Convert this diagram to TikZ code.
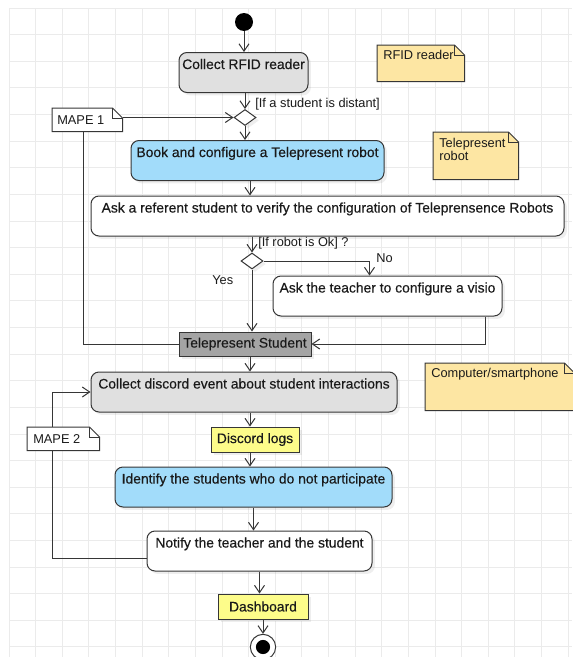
\documentclass[tikz,border=0pt]{standalone}
\usepackage{fontspec}
\setmainfont{Liberation Sans}
\newfontfamily\boxface{Liberation Sans}[FakeBold=0.35]
\usetikzlibrary{arrows.meta,shapes.geometric,shadows,calc}
\pgfdeclarelayer{grid}
\pgfdeclarelayer{wires}
\pgfdeclarelayer{notes}
\pgfsetlayers{grid,wires,notes,main}

\definecolor{ink}{HTML}{363636}
\definecolor{txt}{HTML}{1A1A1A}
\definecolor{gridc}{HTML}{EBEBEB}
\definecolor{actgray}{HTML}{E0E0E0}
\definecolor{actblue}{HTML}{A2DCFA}
\definecolor{tsgray}{HTML}{A4A4A4}
\definecolor{objyellow}{HTML}{FDFC8A}
\definecolor{noteyellow}{HTML}{FDE6A3}

% note outline with folded top-right corner, drawn around an empty body node
\newcommand\notepoly[2]{%
  \begin{pgfonlayer}{notes}
    \filldraw[fill=#2, draw=ink, line width=0.75pt]
      (#1.north west) -- ([xshift=-7.5pt]#1.north east)
      -- ([yshift=-7.5pt]#1.north east) -- (#1.south east)
      -- (#1.south west) -- cycle;
    \draw[ink, line width=0.75pt]
      ([xshift=-7.5pt]#1.north east) -- ([xshift=-7.5pt,yshift=-7.5pt]#1.north east)
      -- ([yshift=-7.5pt]#1.north east);
  \end{pgfonlayer}}

\begin{document}
\begin{tikzpicture}[
  x=0.75pt, y=-0.75pt,
  boxfont/.style={font=\boxface\fontsize{10.4}{12.5}\selectfont, text=txt},
  smallfont/.style={font=\fontsize{9.6}{9.8}\selectfont, text=txt},
  shade/.style={drop shadow={opacity=0.13, shadow xshift=2.2pt, shadow yshift=-2.2pt}},
  act/.style={rectangle, rounded corners=6pt, draw=ink, line width=0.75pt,
    inner xsep=0pt, inner ysep=0pt, text height=12.4pt, text depth=17.6pt,
    boxfont, shade},
  plainact/.style={act, fill=white},
  grayact/.style={act, fill=actgray},
  blueact/.style={act, fill=actblue},
  objbox/.style={rectangle, draw=ink, line width=0.75pt, inner sep=0pt,
    minimum height=18.75pt, boxfont, shade},
  decision/.style={diamond, draw=ink, fill=white, line width=0.75pt,
    minimum width=16.5pt, minimum height=12pt, inner sep=0pt, shade},
  notebody/.style={rectangle, inner sep=0pt, anchor=north west},
  lbl/.style={smallfont, inner sep=0pt, anchor=base west},
  wire/.style={draw=ink, line width=0.75pt},
  arr/.style={wire, -{Straight Barb[length=5.5pt, width=7.5pt]}},
]
\useasboundingbox (0,0) rectangle (572,657);

% drawing canvas grid
\begin{pgfonlayer}{grid}
  \fill[white] (0,0) rectangle (572,657);
  \foreach \i in {0,...,21}
    \draw[gridc, line width=0.6pt] ({9+26.62*\i},8) -- ({9+26.62*\i},657);
  \foreach \j in {0,...,24}
    \draw[gridc, line width=0.6pt] (9,{8+26.62*\j}) -- (572,{8+26.62*\j});
\end{pgfonlayer}

% initial and final nodes
\node[circle, fill=black, minimum size=13.5pt, inner sep=0pt] (start) at (244,22) {};
\node[circle, draw=ink, fill=white, line width=0.75pt, minimum size=19pt, inner sep=0pt,
  path picture={\fill[black] (path picture bounding box.center) circle (5.3pt);}]
  (endnode) at (263,647) {};

% actions
\node[grayact, minimum width=96.75pt] (rfid) at (243.5,72.5) {Collect RFID reader};
\node[decision] (d1) at (245,117.5) {};
\node[blueact, minimum width=189.75pt] (book) at (257.5,160.5) {Book and configure a Telepresent robot};
\node[plainact, minimum width=354.75pt] (ref) at (327.5,216) {Ask a referent student to verify the configuration of Teleprensence Robots};
\node[decision] (d2) at (252,261) {};
\node[plainact, minimum width=171.75pt] (teacher) at (387.5,296) {Ask the teacher to configure a visio};
\node[objbox, fill=tsgray, minimum width=99pt, minimum height=18pt] (ts) at (245,344) {Telepresent Student};
\node[grayact, minimum width=229.5pt] (discord) at (244,392) {Collect discord event about student interactions};
\node[objbox, fill=objyellow, minimum width=66pt] (logs) at (255,439.5) {Discord logs};
\node[blueact, minimum width=207.75pt] (identify) at (253.5,487) {Identify the students who do not participate};
\node[plainact, minimum width=168.75pt] (notify) at (259.5,551) {Notify the teacher and the student};
\node[objbox, fill=objyellow, minimum width=67.5pt] (dash) at (263,606.5) {Dashboard};

% notes
\node[notebody, minimum width=65.25pt, minimum height=27pt] (rfidnote) at (377,45) {};
\notepoly{rfidnote}{noteyellow}
\node[lbl] (rfidnotetxt) at (383,59.5) {RFID reader};

\node[notebody, minimum width=63.75pt, minimum height=35.25pt] (robotnote) at (433,132) {};
\notepoly{robotnote}{noteyellow}
\node[smallfont, inner sep=0pt, anchor=north west, align=left] (robotnotetxt) at (439,137.5) {Telepresent\\robot};

\node[notebody, minimum width=111.75pt, minimum height=35.25pt] (compnote) at (425,363) {};
\notepoly{compnote}{noteyellow}
\node[lbl] (compnotetxt) at (431,377.5) {Computer/smartphone};

\node[notebody, minimum width=52.5pt, minimum height=17.25pt] (mape1) at (52,108) {};
\notepoly{mape1}{white}
\node[lbl] (mape1txt) at (57,124) {MAPE 1};

\node[notebody, minimum width=54pt, minimum height=17.25pt] (mape2) at (27,427) {};
\notepoly{mape2}{white}
\node[lbl] (mape2txt) at (33,443) {MAPE 2};

% helper points on node borders
\coordinate (spine) at (250,0);
\coordinate (m1drop) at ([xshift=23.25pt]mape1.south west);
\coordinate (nohook) at ([xshift=72.75pt]teacher.north west);
\coordinate (tback) at ([xshift=-12.75pt]teacher.south east);
\coordinate (loopx) at ([xshift=18.75pt]mape2.north west);

% guard and branch labels
\node[lbl] (guard1) at (255,107.5) {[If a student is distant]};
\node[lbl] (yeslbl) at (212,284.5) {Yes};
\node[lbl] (nolbl) at (376,262.5) {No};

% control flow
\begin{pgfonlayer}{wires}
  \node[lbl] (guard2) at (258,246.5) {[If robot is Ok] ?};
  \draw[arr] (start.south) -- (start.south |- rfid.north);
  \draw[arr] (d1.north |- rfid.south) -- (d1.north);
  \draw[arr] (mape1.east |- d1.west) -- (d1.west);
  \draw[arr] (d1.south) -- (d1.south |- book.north);
  \draw[arr] (book.south -| spine) -- (ref.north -| spine);
  \draw[arr] (d2.north |- ref.south) -- (d2.north);
  \draw[arr] (d2.east) -| (nohook);
  \draw[arr] (d2.south) -- (d2.south |- ts.north);
  \draw[arr] (tback) |- (ts.east);
  \draw[wire] (m1drop) |- (ts.west);
  \draw[arr] (ts.south -| spine) -- (discord.north -| spine);
  \draw[arr] (discord.south -| spine) -- (logs.north -| spine);
  \draw[arr] (logs.south -| spine) -- (identify.north -| spine);
  \draw[arr] (identify.south) -- (identify.south |- notify.north);
  \draw[arr] (notify.south) -- (notify.south |- dash.north);
  \draw[arr] (dash.south) -- (endnode.north);
  \draw[arr] ([yshift=-5.25pt]notify.west) -| (loopx |- discord.west) -- (discord.west);
\end{pgfonlayer}
\end{tikzpicture}
\end{document}
